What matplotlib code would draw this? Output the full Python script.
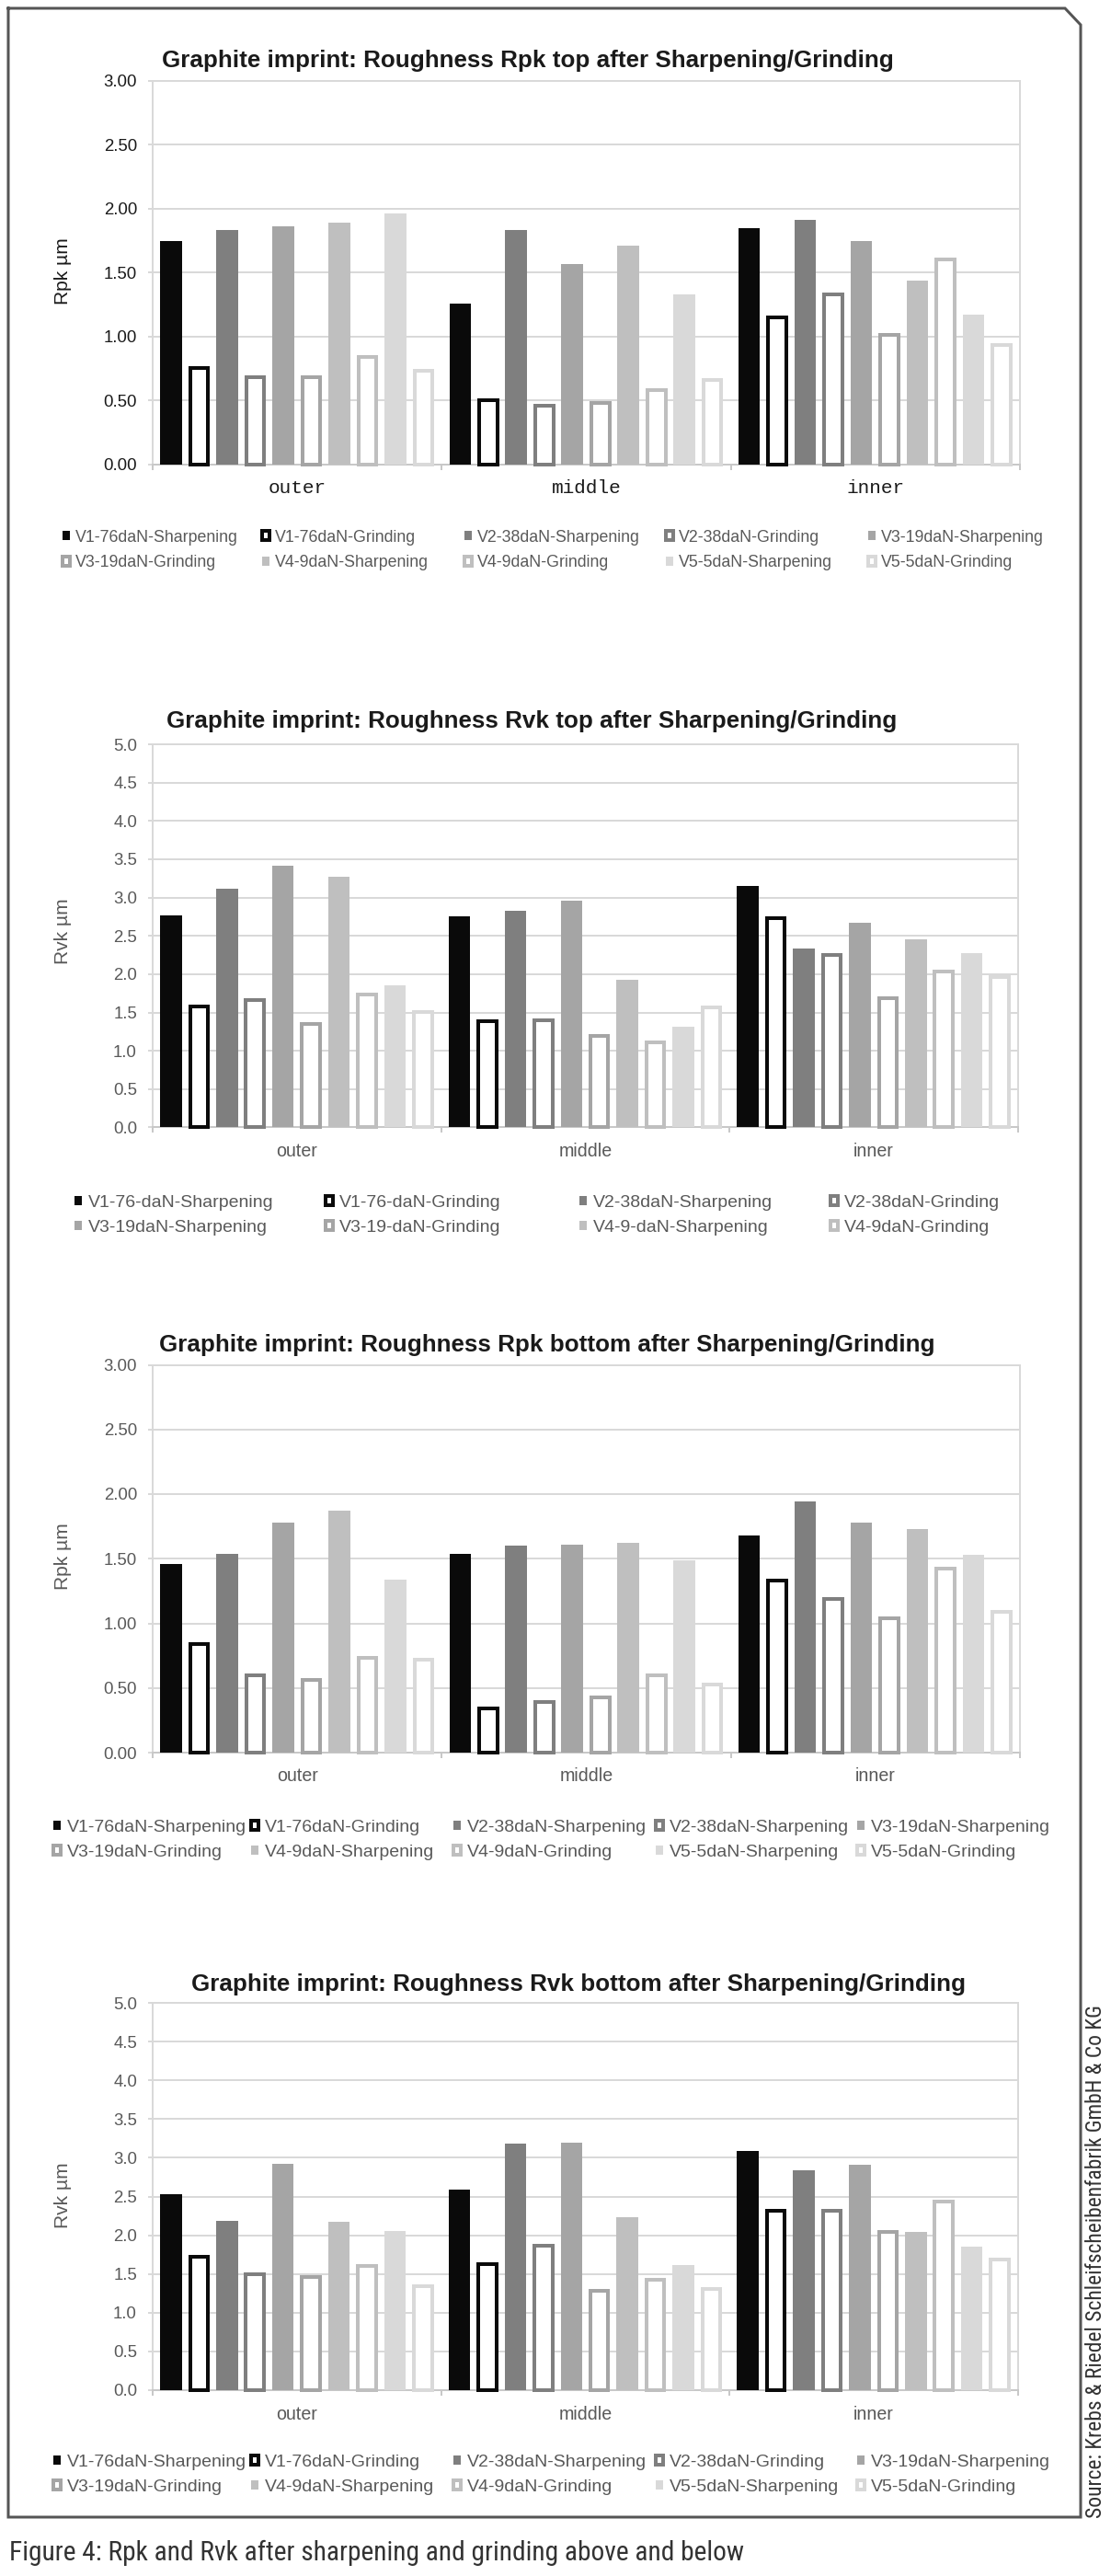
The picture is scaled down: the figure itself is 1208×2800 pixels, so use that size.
import numpy as np
import matplotlib
matplotlib.use('Agg')
import matplotlib.pyplot as plt
from matplotlib.patches import Patch
from matplotlib.lines import Line2D
from matplotlib import font_manager

plt.rcParams['font.family'] = ['Liberation Sans', 'DejaVu Sans']

W, H, DPI = 1208, 2800, 100

# data
zones = ['outer', 'middle', 'inner']
greys = ['#0a0a0a', '#7f7f7f', '#a5a5a5', '#bfbfbf', '#d9d9d9']  # V1..V5

# rows = outer, middle, inner ; columns = V1..V5
rpk_top_sharp = [[1.75, 1.83, 1.86, 1.89, 1.96],
                 [1.26, 1.83, 1.57, 1.71, 1.33],
                 [1.85, 1.91, 1.75, 1.44, 1.17]]
rpk_top_grind = [[0.75, 0.68, 0.68, 0.84, 0.73],
                 [0.50, 0.46, 0.48, 0.58, 0.66],
                 [1.15, 1.33, 1.01, 1.60, 0.93]]

rvk_top_sharp = [[2.77, 3.11, 3.41, 3.27, 1.86],
                 [2.76, 2.83, 2.96, 1.93, 1.31],
                 [3.15, 2.33, 2.67, 2.45, 2.27]]
rvk_top_grind = [[1.58, 1.66, 1.35, 1.74, 1.51],
                 [1.39, 1.40, 1.19, 1.11, 1.57],
                 [2.73, 2.25, 1.69, 2.03, 1.96]]

rpk_bot_sharp = [[1.46, 1.54, 1.78, 1.87, 1.34],
                 [1.54, 1.60, 1.61, 1.62, 1.49],
                 [1.68, 1.94, 1.78, 1.73, 1.53]]
rpk_bot_grind = [[0.84, 0.60, 0.56, 0.73, 0.72],
                 [0.34, 0.39, 0.43, 0.60, 0.53],
                 [1.33, 1.19, 1.04, 1.42, 1.09]]

rvk_bot_sharp = [[2.53, 2.19, 2.92, 2.17, 2.06],
                 [2.59, 3.18, 3.19, 2.23, 1.61],
                 [3.09, 2.84, 2.91, 2.04, 1.85]]
rvk_bot_grind = [[1.72, 1.50, 1.46, 1.60, 1.34],
                 [1.63, 1.87, 1.28, 1.43, 1.31],
                 [2.32, 2.31, 2.04, 2.43, 1.69]]

labels_1 = ['V1-76daN-Sharpening', 'V1-76daN-Grinding', 'V2-38daN-Sharpening', 'V2-38daN-Grinding',
            'V3-19daN-Sharpening', 'V3-19daN-Grinding', 'V4-9daN-Sharpening', 'V4-9daN-Grinding',
            'V5-5daN-Sharpening', 'V5-5daN-Grinding']
labels_2 = ['V1-76-daN-Sharpening', 'V1-76-daN-Grinding', 'V2-38daN-Sharpening', 'V2-38daN-Grinding',
            'V3-19daN-Sharpening', 'V3-19-daN-Grinding', 'V4-9-daN-Sharpening', 'V4-9daN-Grinding']
labels_3 = ['V1-76daN-Sharpening', 'V1-76daN-Grinding', 'V2-38daN-Sharpening', 'V2-38daN-Sharpening',
            'V3-19daN-Sharpening', 'V3-19daN-Grinding', 'V4-9daN-Sharpening', 'V4-9daN-Grinding',
            'V5-5daN-Sharpening', 'V5-5daN-Grinding']
labels_4 = ['V1-76daN-Sharpening', 'V1-76daN-Grinding', 'V2-38daN-Sharpening', 'V2-38daN-Grinding',
            'V3-19daN-Sharpening', 'V3-19daN-Grinding', 'V4-9daN-Sharpening', 'V4-9daN-Grinding',
            'V5-5daN-Sharpening', 'V5-5daN-Grinding']

caption = 'Figure 4: Rpk and Rvk after sharpening and grinding above and below'
source = 'Source: Krebs & Riedel Schleifscheibenfabrik GmbH & Co KG'


def px(v):
    return v * 72.0 / DPI


def fx(x):
    return x / W


def fy(y):
    return 1 - y / H


# pick a narrow font for caption / source if there is one
names = {f.name for f in font_manager.fontManager.ttflist}
cond_family, cond_stretch = 'DejaVu Sans', 'normal'
for n in ['Roboto Condensed', 'Liberation Sans Narrow', 'Open Sans Condensed', 'Noto Sans Condensed']:
    if n in names:
        cond_family = n
        break
else:
    for f in font_manager.fontManager.ttflist:
        if f.name in ('Noto Sans', 'DejaVu Sans', 'Open Sans', 'Roboto') and 'condensed' in str(f.stretch):
            cond_family, cond_stretch = f.name, 'condensed'
            break

fig = plt.figure(figsize=(W / DPI, H / DPI), dpi=DPI, facecolor='white')


def draw(box, sharp, grind, ymax, fmt, ylabel, title, title_xy, ylab_y, labels, leg_x, leg_y,
         leg_fs, leg_space, dark, cat_family, cat_fs, cat_pad):
    left, right, top, bottom = box
    ax = fig.add_axes([fx(left), fy(bottom), (right - left) / W, (bottom - top) / H])
    sharp = np.array(sharp)
    grind = np.array(grind)
    x = np.arange(len(zones))
    slot, bw = 0.097, 0.075
    lw_px = 4
    edge_units = lw_px / (right - left) * 3
    for j in range(5):
        ax.bar(x + (2 * j - 4.5) * slot, sharp[:, j], bw, color=greys[j], zorder=3)
        ax.bar(x + (2 * j + 1 - 4.5) * slot, grind[:, j], bw - edge_units, facecolor='white',
               edgecolor=greys[j], linewidth=px(lw_px), zorder=3, clip_on=False, joinstyle='miter')
    ax.set_xlim(-0.5, 2.5)
    ax.set_ylim(0, ymax)
    ax.set_yticks(np.arange(0, ymax + 0.01, 0.5))
    ax.yaxis.set_major_formatter(matplotlib.ticker.FormatStrFormatter(fmt))
    ax.yaxis.grid(True, color='#d9d9d9', lw=px(2))
    ax.set_axisbelow(True)
    for s in ax.spines.values():
        s.set_color('#d9d9d9')
        s.set_linewidth(px(2))
    ax.spines['bottom'].set_color('#c8c8c8')
    tcol = '#1a1a1a' if dark else '#595959'
    ax.tick_params(axis='y', length=px(5), width=px(2), color='#d9d9d9', pad=px(12),
                   labelsize=px(18.6), labelcolor=tcol)
    ax.set_xticks([-0.5, 0.5, 1.5, 2.5])
    ax.set_xticklabels([])
    ax.tick_params(axis='x', which='major', length=px(6), width=px(2), color='#c8c8c8')
    ax.set_xticks(x, minor=True)
    ax.set_xticklabels(zones, minor=True, family=cat_family, fontsize=cat_fs, color=tcol)
    ax.tick_params(axis='x', which='minor', length=0, pad=cat_pad)

    fig.text(fx(title_xy[0]), fy(title_xy[1]), title, ha='center', va='center',
             fontsize=px(26), fontweight='bold', color='#1a1a1a')
    fig.text(fx(68), fy(ylab_y), ylabel, rotation=90, ha='center', va='center',
             fontsize=px(21), color=tcol)

    ncol = len(leg_x)
    for c in range(ncol):
        hs, ls = [], []
        for k in (c, c + ncol):
            if k >= len(labels):
                continue
            col = greys[k // 2]
            if k % 2 == 0:
                hs.append(Patch(facecolor=col, edgecolor='none'))
            else:
                hs.append(Patch(facecolor='white', edgecolor=col, linewidth=px(4)))
            ls.append(labels[k])
        hl = 8.0 / (leg_fs * DPI / 72.0)
        fig.legend(hs, ls, loc='center left', bbox_to_anchor=(fx(leg_x[c]), fy(leg_y)),
                   bbox_transform=fig.transFigure, frameon=False, borderpad=0, borderaxespad=0,
                   handlelength=hl, handleheight=hl, handletextpad=0.35, labelspacing=leg_space,
                   fontsize=leg_fs, labelcolor='#595959')
    return ax


draw((166, 1109, 88, 504.5), rpk_top_sharp, rpk_top_grind, 3.0, '%.2f', 'Rpk µm',
     'Graphite imprint: Roughness Rpk top after Sharpening/Grinding', (574, 66), 295,
     labels_1, [68, 285, 505, 724, 944], 598, px(17.7), 0.62, True,
     ['Liberation Mono', 'DejaVu Sans Mono'], px(21), px(17))

draw((166, 1107, 809, 1225.5), rvk_top_sharp, rvk_top_grind, 5.0, '%.1f', 'Rvk µm',
     'Graphite imprint: Roughness Rvk top after Sharpening/Grinding', (578, 784), 1012,
     labels_2, [81, 354, 630, 903], 1321, px(19.5), 0.53, False,
     ['Liberation Sans', 'DejaVu Sans'], px(19.6), px(17))

draw((166, 1109, 1483.5, 1905), rpk_bot_sharp, rpk_bot_grind, 3.0, '%.2f', 'Rpk µm',
     'Graphite imprint: Roughness Rpk bottom after Sharpening/Grinding', (595, 1462), 1692,
     labels_3, [58, 273, 493, 713, 932], 2000, px(19.5), 0.53, False,
     ['Liberation Sans', 'DejaVu Sans'], px(19.6), px(16.5))

draw((166, 1107, 2177, 2598), rvk_bot_sharp, rvk_bot_grind, 5.0, '%.1f', 'Rvk µm',
     'Graphite imprint: Roughness Rvk bottom after Sharpening/Grinding', (629, 2157), 2386,
     labels_4, [58, 273, 493, 713, 932], 2690, px(19.5), 0.53, False,
     ['Liberation Sans', 'DejaVu Sans'], px(19.6), px(17))

# frame with the cut corner
bx = [9, 1158, 1175, 1175, 9, 9]
by = [9, 9, 27, 2736, 2736, 9]
fig.add_artist(Line2D([fx(v) for v in bx], [fy(v) for v in by], transform=fig.transFigure,
                      color='#555555', lw=px(3), solid_joinstyle='miter'))

cap = fig.text(fx(10), fy(2783), caption, ha='left', va='baseline', fontsize=px(28),
               family=[cond_family, 'DejaVu Sans'], fontstretch=cond_stretch, color='#333333')
src = fig.text(fx(1191), fy(2737), source, rotation=90, ha='center', va='bottom', fontsize=px(25),
               family=[cond_family, 'DejaVu Sans'], fontstretch=cond_stretch, color='#333333')

# fit caption and source to the lengths in the reference
r = fig.canvas.get_renderer()
wc = cap.get_window_extent(r).width
cap.set_fontsize(cap.get_fontsize() * 800.0 / wc)
hs_ = src.get_window_extent(r).height
src.set_fontsize(src.get_fontsize() * 557.0 / hs_)

fig.savefig('out.png', dpi=DPI, facecolor='white')
